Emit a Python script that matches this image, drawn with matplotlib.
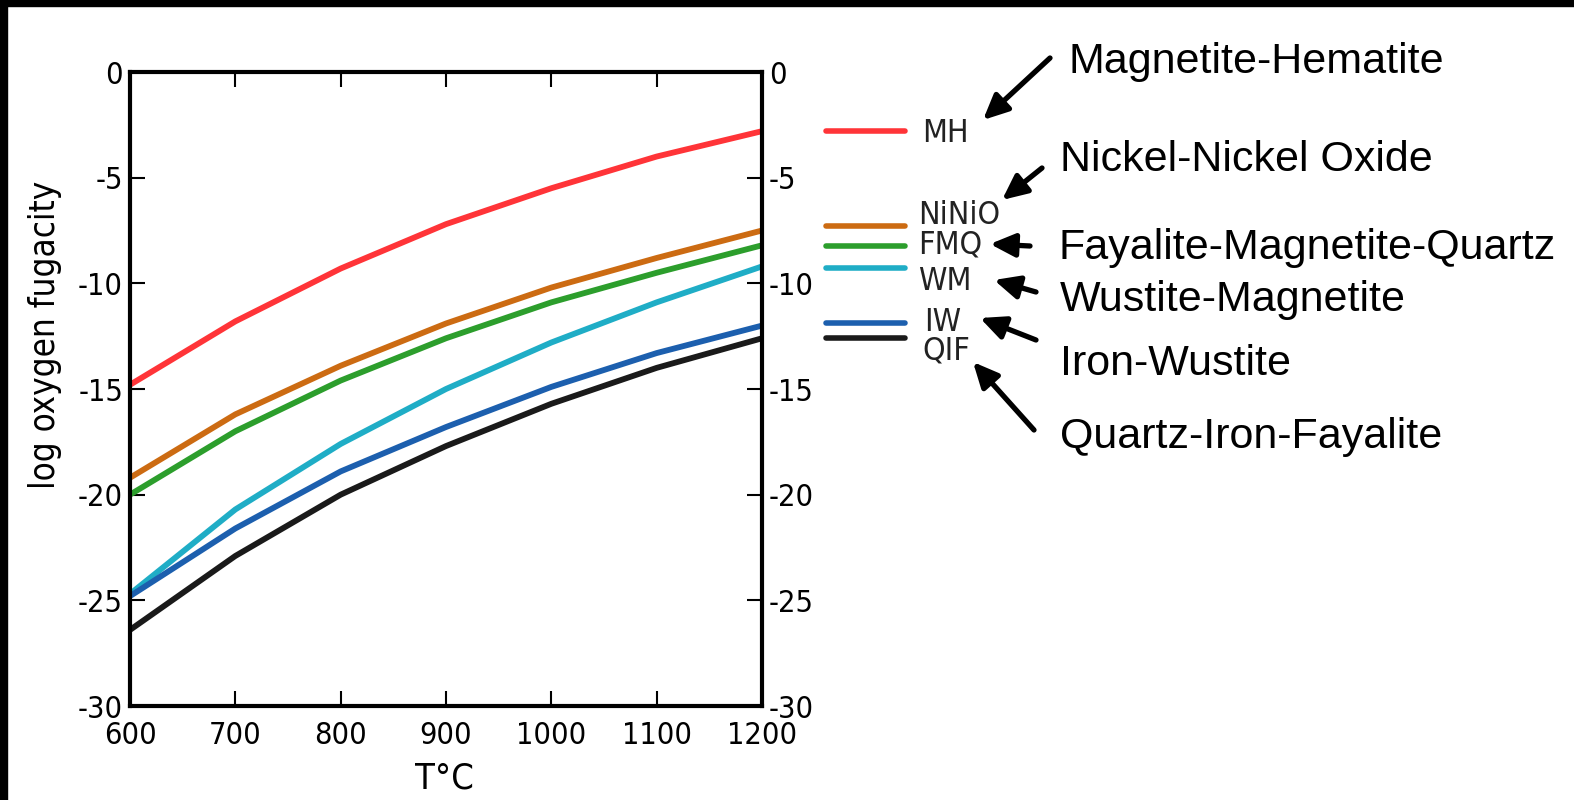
import matplotlib
matplotlib.use("Agg")
import matplotlib.pyplot as plt
from matplotlib.patches import Rectangle, FancyArrowPatch

# temperatures (deg C) and log fO2 buffers
temps = [600, 700, 800, 900, 1000, 1100, 1200]
mh    = [-14.8, -11.8, -9.3, -7.2, -5.5, -4.0, -2.8]
ninio = [-19.2, -16.2, -13.9, -11.9, -10.2, -8.8, -7.5]
fmq   = [-20.0, -17.0, -14.6, -12.6, -10.9, -9.5, -8.2]
wm    = [-24.7, -20.7, -17.6, -15.0, -12.8, -10.9, -9.2]
iw    = [-24.8, -21.6, -18.9, -16.8, -14.9, -13.3, -12.0]
qif   = [-26.4, -22.9, -20.0, -17.7, -15.7, -14.0, -12.6]

codes = ["MH", "NiNiO", "FMQ", "WM", "IW", "QIF"]
names = ["Magnetite-Hematite", "Nickel-Nickel Oxide", "Fayalite-Magnetite-Quartz",
         "Wustite-Magnetite", "Iron-Wustite", "Quartz-Iron-Fayalite"]
colors = ["#ff3438", "#cc6b12", "#2c9e2c", "#1fadc6", "#1c5fae", "#1a1a1a"]
series = [mh, ninio, fmq, wm, iw, qif]

yticks = [0, -5, -10, -15, -20, -25, -30]
xticks = [600, 700, 800, 900, 1000, 1100, 1200]

W, H = 1574, 800
narrow = dict(family="DejaVu Sans", stretch="condensed")

fig = plt.figure(figsize=(W / 100, H / 100), dpi=100)
fig.patch.set_facecolor("white")

# black strips on top and left of the original picture
fig.patches.append(Rectangle((0, 1 - 6 / H), 1, 6 / H, transform=fig.transFigure,
                             color="black", zorder=10))
fig.patches.append(Rectangle((0, 0), 7 / W, 1, transform=fig.transFigure,
                             color="black", zorder=10))

ax = fig.add_axes([130 / W, (H - 706) / H, 632 / W, 634 / H])

for ys, c in zip(series, colors):
    ax.plot(temps, ys, color=c, lw=4.2, solid_capstyle="butt", clip_on=False, zorder=3)

ax.set_xlim(600, 1200)
ax.set_ylim(-30, 0)
ax.set_xticks(xticks)
ax.set_yticks(yticks)
ax.set_xticklabels([str(t) for t in xticks], fontsize=22, **narrow)
ax.set_yticklabels([str(t) for t in yticks], fontsize=22, **narrow)
ax.tick_params(direction="in", length=11, width=1.5, top=True, right=True,
               labelright=True)
ax.tick_params(axis="x", pad=11)
ax.tick_params(axis="y", pad=5)
for s in ax.spines.values():
    s.set_linewidth(3)
    s.set_zorder(5)

ax.set_xlabel("T°C", fontsize=26, **narrow)
ax.set_ylabel("log oxygen fugacity", fontsize=25, **narrow)
ax.xaxis.set_label_coords(0.498, -0.088)
ax.yaxis.set_label_coords(-0.108, 0.585)

# hand-made legend (figure pixel positions)
leg_y = [131, 226, 246, 268, 323, 338]
lab_pos = [(922, 133), (918, 216), (918, 245), (918, 281), (924, 322), (922, 351)]
for c, yy, code, (lx, ly) in zip(colors, leg_y, codes, lab_pos):
    fig.add_artist(plt.Line2D([826 / W, 905 / W], [1 - yy / H, 1 - yy / H],
                              color=c, lw=4, solid_capstyle="round"))
    fig.text(lx / W, 1 - ly / H, code, fontsize=23, ha="left", va="center",
             color="#222222", **narrow)

# long names with arrows pointing at the codes
name_pos = [(1068, 62), (1060, 160), (1058, 248), (1060, 300), (1060, 364), (1060, 437)]
arrow_from = [(1050, 58), (1042, 168), (1030, 246), (1036, 292), (1036, 340), (1034, 430)]
arrow_to = [(983, 120), (1002, 200), (990, 244), (994, 280), (980, 318), (973, 362)]
for nm, (tx, ty), (x0, y0), (x1, y1) in zip(names, name_pos, arrow_from, arrow_to):
    fig.text(tx / W, 1 - ty / H, nm, family=["Liberation Sans", "DejaVu Sans"],
             fontsize=31, ha="left", va="center", color="black")
    fig.add_artist(FancyArrowPatch(
        (x0 / W, 1 - y0 / H), (x1 / W, 1 - y1 / H), transform=fig.transFigure,
        arrowstyle="-|>,head_length=15,head_width=7", mutation_scale=1,
        lw=3.8, color="black", shrinkA=0, shrinkB=0))

fig.savefig("out.png", dpi=100)
